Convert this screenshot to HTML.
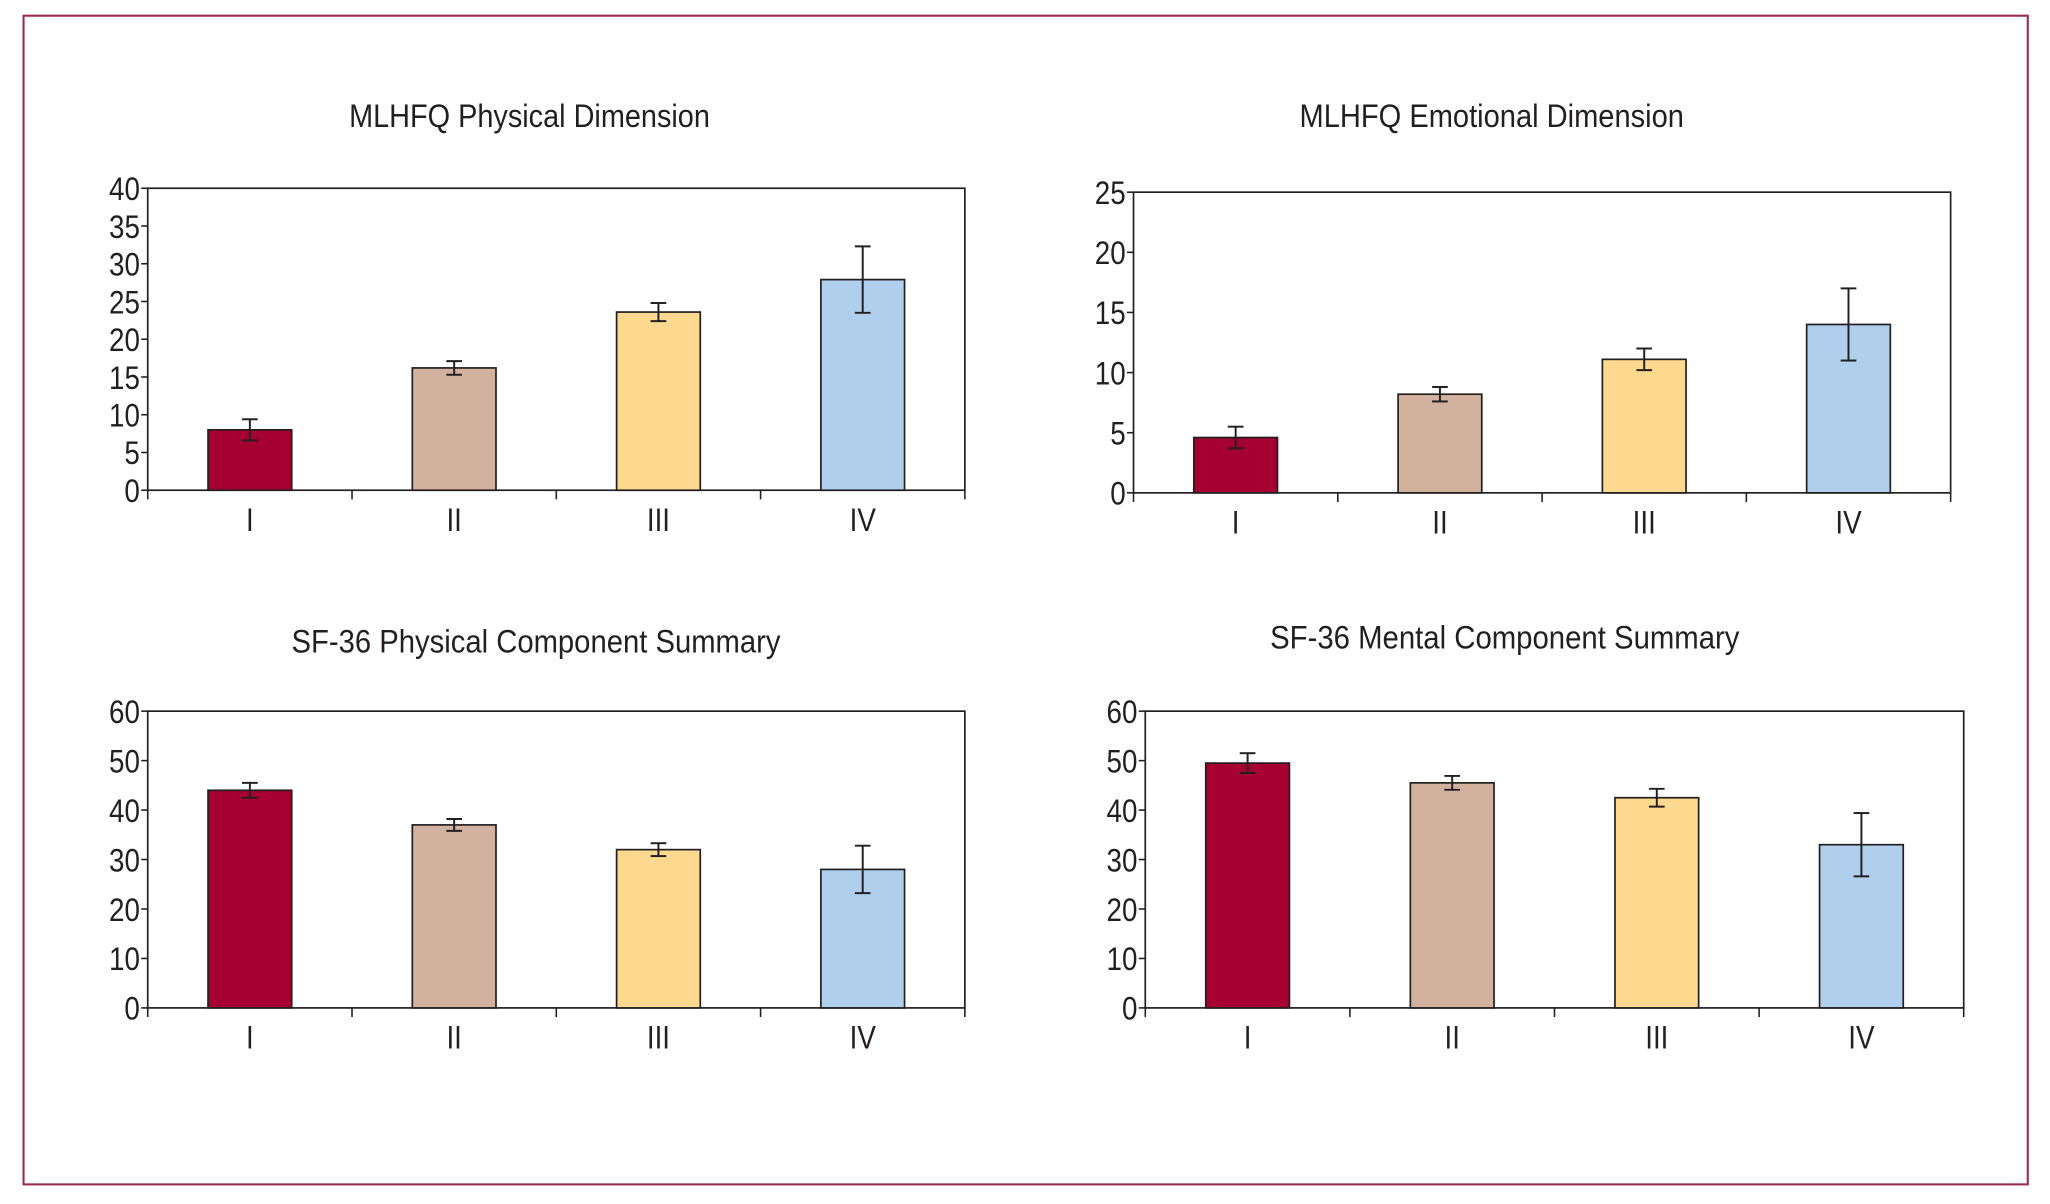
<!DOCTYPE html>
<html><head><meta charset="utf-8"><style>
html,body{margin:0;padding:0;background:#fff;}
svg{display:block;}
text{font-family:"Liberation Sans Narrow","Liberation Sans",sans-serif;fill:#231f20;}
</style></head><body>
<svg id="fig" width="2050" height="1204" viewBox="0 0 1568 921" preserveAspectRatio="none" xmlns="http://www.w3.org/2000/svg">
<rect x="18" y="12" width="1533" height="894" fill="none" stroke="#9e2a4e" stroke-width="1.6"/>
</svg>
<script>
const categories = ["I","II","III","IV"];
const colors = ["#a50031","#d2b29e","#fdd98f","#afcfec"];
const mlhfqPhysValues = [8.0, 16.2, 23.6, 27.9];
const mlhfqPhysErrors = [1.4, 0.9, 1.2, 4.4];
const mlhfqPhysTicks = [0,5,10,15,20,25,30,35,40];
const mlhfqEmoValues = [4.6, 8.2, 11.1, 14.0];
const mlhfqEmoErrors = [0.9, 0.6, 0.9, 3.0];
const mlhfqEmoTicks = [0,5,10,15,20,25];
const sfPhysValues = [44.0, 37.0, 32.0, 28.0];
const sfPhysErrors = [1.5, 1.2, 1.3, 4.8];
const sfPhysTicks = [0,10,20,30,40,50,60];
const sfMentValues = [49.5, 45.5, 42.5, 33.0];
const sfMentErrors = [2.0, 1.4, 1.8, 6.4];
const sfMentTicks = [0,10,20,30,40,50,60];

const NS = "http://www.w3.org/2000/svg";
const svg = document.getElementById("fig");
function mk(tag, attrs, parent){
  const e = document.createElementNS(NS, tag);
  for (const k in attrs) e.setAttribute(k, attrs[k]);
  (parent||svg).appendChild(e);
  return e;
}
function chart(cfg){
  const g = mk("g", {});
  
  
  const {x0,x1,y0,y1,ticks,values,errors} = cfg;
  const max = ticks[ticks.length-1];
  const ys = v => y0 - (v/max)*(y0-y1);
  const step = (x1-x0)/categories.length;
  const xc = i => x0 + step*(i+0.5);
  const t = mk("text", {x: cfg.tx, y: cfg.ty, "text-anchor":"middle", "font-size":25, textLength: cfg.tl, lengthAdjust:"spacingAndGlyphs"}, g);
  t.textContent = cfg.title;
  
  
  const fr = mk("rect", {x:x0,y:y1,width:x1-x0,height:y0-y1,fill:"none",stroke:"#231f20","stroke-width":1.3}, g);
  
  
  values.forEach((v,i)=>{
    const bw = 64;
    const b = mk("rect", {x:xc(i)-bw/2, y:ys(v), width:bw, height:y0-ys(v), fill:colors[i], stroke:"#231f20","stroke-width":1.3}, g);
    
    
    const e = errors[i];
    const eg = mk("g", {stroke:"#231f20","stroke-width":1.5}, g);
    
    
    mk("line",{x1:xc(i),x2:xc(i),y1:ys(v+e),y2:ys(v-e)},eg);
    mk("line",{x1:xc(i)-6,x2:xc(i)+6,y1:ys(v+e),y2:ys(v+e)},eg);
    mk("line",{x1:xc(i)-6,x2:xc(i)+6,y1:ys(v-e),y2:ys(v-e)},eg);
    const lab = mk("text",{x:0,y:0,"text-anchor":"middle","font-size":25,transform:`translate(${xc(i)},${y0+31}) scale(0.85,1)`},g);
    lab.textContent = categories[i];
    
    
  });
  for (let i=0;i<=categories.length;i++){
    const x = x0 + step*i;
    mk("line",{x1:x,x2:x,y1:y0,y2:y0+7,stroke:"#231f20","stroke-width":1.2},g);
  }
  ticks.forEach(tv=>{
    const y = ys(tv);
    mk("line",{x1:x0-5,x2:x0,y1:y,y2:y,stroke:"#231f20","stroke-width":1.2},g);
    const tl = mk("text",{x:0,y:0,"text-anchor":"end","font-size":25,transform:`translate(${x0-6},${y+9}) scale(0.85,1)`},g);
    tl.textContent = tv;
    
    
  });
}
chart({name:"chart-mlhfq-physical",title:"MLHFQ Physical Dimension",tx:405,ty:97,tl:276,x0:113,x1:738,y0:375,y1:144,ticks:mlhfqPhysTicks,values:mlhfqPhysValues,errors:mlhfqPhysErrors});
chart({name:"chart-mlhfq-emotional",title:"MLHFQ Emotional Dimension",tx:1141,ty:97,tl:294,x0:867,x1:1492,y0:377,y1:147,ticks:mlhfqEmoTicks,values:mlhfqEmoValues,errors:mlhfqEmoErrors});
chart({name:"chart-sf36-physical",title:"SF-36 Physical Component Summary",tx:410,ty:499,tl:374,x0:113,x1:738,y0:771,y1:544,ticks:sfPhysTicks,values:sfPhysValues,errors:sfPhysErrors});
chart({name:"chart-sf36-mental",title:"SF-36 Mental Component Summary",tx:1151,ty:496,tl:359,x0:876,x1:1502,y0:771,y1:544,ticks:sfMentTicks,values:sfMentValues,errors:sfMentErrors});
</script>
</body></html>
